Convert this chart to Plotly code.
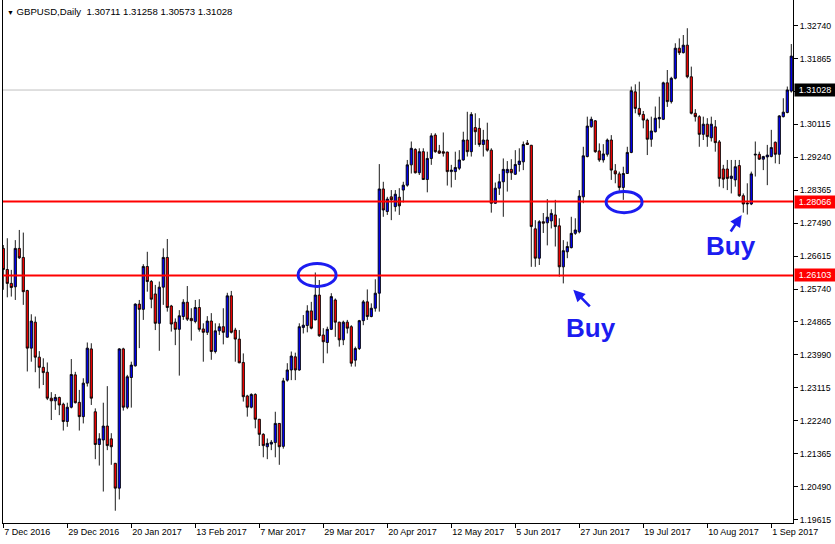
import pandas as pd
import plotly.graph_objects as go

# GBPUSD daily candles, 7 Dec 2016 .. 8 Sep 2017 (weekdays only)
dates = pd.bdate_range("2016-12-07", periods=198).strftime("%Y-%m-%d").tolist()

open_ = [
    1.2682, 1.2626, 1.2589, 1.2580, 1.2682, 1.2658, 1.2570, 1.2417, 1.2486, 1.2393,
    1.2366, 1.2353, 1.2284, 1.2277, 1.2286, 1.2268, 1.2222, 1.2260, 1.2346, 1.2273,
    1.2235, 1.2324, 1.2415, 1.2248, 1.2161, 1.2173, 1.2210, 1.2176, 1.2111, 1.2045,
    1.2415, 1.2260, 1.2339, 1.2370, 1.2534, 1.2520, 1.2634, 1.2594, 1.2561, 1.2483,
    1.2579, 1.2658, 1.2529, 1.2486, 1.2467, 1.2501, 1.2539, 1.2496, 1.2488, 1.2525,
    1.2468, 1.2459, 1.2489, 1.2408, 1.2463, 1.2474, 1.2446, 1.2556, 1.2465, 1.2441,
    1.2379, 1.2290, 1.2260, 1.2294, 1.2228, 1.2188, 1.2155, 1.2162, 1.2166, 1.2217,
    1.2156, 1.2332, 1.2359, 1.2394, 1.2359, 1.2472, 1.2477, 1.2516, 1.2492, 1.2558,
    1.2452, 1.2432, 1.2467, 1.2545, 1.2486, 1.2439, 1.2486, 1.2474, 1.2385, 1.2416,
    1.2490, 1.2540, 1.2501, 1.2523, 1.2563, 1.2840, 1.2780, 1.2819, 1.2793, 1.2818,
    1.2837, 1.2850, 1.2904, 1.2945, 1.2883, 1.2939, 1.2865, 1.2921, 1.2983, 1.2941,
    1.2939, 1.2938, 1.2886, 1.2886, 1.2895, 1.2917, 1.2970, 1.2939, 1.3003, 1.3001,
    1.2958, 1.2970, 1.2943, 1.2802, 1.2842, 1.2859, 1.2883, 1.2892, 1.2879, 1.2905,
    1.2912, 1.2962, 1.2956, 1.2734, 1.2656, 1.2753, 1.2750, 1.2755, 1.2771, 1.2742,
    1.2633, 1.2673, 1.2684, 1.2722, 1.2726, 1.2819, 1.2926, 1.3005, 1.3021, 1.2941,
    1.2917, 1.2932, 1.2970, 1.2888, 1.2880, 1.2844, 1.2881, 1.2937, 1.3098, 1.3054,
    1.3038, 1.3023, 1.2972, 1.2992, 1.3026, 1.3025, 1.3122, 1.3072, 1.3134, 1.3214,
    1.3202, 1.3222, 1.3138, 1.3041, 1.3032, 1.2985, 1.3012, 1.2976, 1.3005, 1.2965,
    1.2893, 1.2893, 1.2868, 1.2864, 1.2902, 1.2822, 1.2800, 1.2800, 1.2930, 1.2932,
    1.2919, 1.2925, 1.2926, 1.2964, 1.2932, 1.3032, 1.3043, 1.3100,
]
high = [
    1.2691, 1.2709, 1.2625, 1.2704, 1.2731, 1.2724, 1.2572, 1.2507, 1.2501, 1.2409,
    1.2390, 1.2379, 1.2300, 1.2295, 1.2288, 1.2272, 1.2272, 1.2388, 1.2354, 1.2306,
    1.2337, 1.2432, 1.2430, 1.2257, 1.2191, 1.2272, 1.2316, 1.2191, 1.2112, 1.2417,
    1.2418, 1.2346, 1.2381, 1.2536, 1.2545, 1.2640, 1.2673, 1.2598, 1.2585, 1.2594,
    1.2682, 1.2707, 1.2532, 1.2496, 1.2518, 1.2547, 1.2582, 1.2523, 1.2545, 1.2547,
    1.2483, 1.2502, 1.2510, 1.2483, 1.2483, 1.2523, 1.2564, 1.2569, 1.2471, 1.2465,
    1.2403, 1.2293, 1.2297, 1.2297, 1.2229, 1.2191, 1.2177, 1.2173, 1.2248, 1.2218,
    1.2338, 1.2377, 1.2408, 1.2405, 1.2483, 1.2505, 1.2531, 1.2540, 1.2618, 1.2598,
    1.2470, 1.2474, 1.2563, 1.2549, 1.2487, 1.2490, 1.2492, 1.2478, 1.2421, 1.2492,
    1.2545, 1.2573, 1.2536, 1.2600, 1.2906, 1.2859, 1.2819, 1.2837, 1.2837, 1.2842,
    1.2859, 1.2917, 1.2966, 1.2948, 1.2948, 1.2948, 1.2939, 1.2988, 1.2988, 1.2957,
    1.2990, 1.2939, 1.2904, 1.2939, 1.2943, 1.2992, 1.3045, 1.3044, 1.3041, 1.3028,
    1.2997, 1.3016, 1.2948, 1.2857, 1.2880, 1.2921, 1.2914, 1.2919, 1.2943, 1.2948,
    1.2966, 1.2970, 1.2957, 1.2757, 1.2757, 1.2776, 1.2813, 1.2786, 1.2811, 1.2762,
    1.2704, 1.2700, 1.2766, 1.2762, 1.2837, 1.2952, 1.3032, 1.3032, 1.3023, 1.2961,
    1.2959, 1.2974, 1.2983, 1.2906, 1.2886, 1.2899, 1.2952, 1.3112, 1.3118, 1.3125,
    1.3047, 1.3027, 1.3032, 1.3059, 1.3085, 1.3125, 1.3156, 1.3138, 1.3227, 1.3240,
    1.3249, 1.3267, 1.3165, 1.3052, 1.3036, 1.3032, 1.3028, 1.3032, 1.3023, 1.2970,
    1.2904, 1.2917, 1.2917, 1.2917, 1.2917, 1.2828, 1.2855, 1.2886, 1.2966, 1.2939,
    1.2928, 1.2957, 1.2997, 1.2966, 1.3036, 1.3081, 1.3112, 1.3225,
]
low = [
    1.2572, 1.2552, 1.2554, 1.2545, 1.2654, 1.2532, 1.2355, 1.2381, 1.2353, 1.2310,
    1.2319, 1.2279, 1.2226, 1.2253, 1.2239, 1.2198, 1.2208, 1.2257, 1.2270, 1.2198,
    1.2217, 1.2315, 1.2266, 1.2122, 1.2105, 1.2036, 1.2146, 1.2107, 1.1985, 1.2015,
    1.2251, 1.2255, 1.2259, 1.2368, 1.2417, 1.2492, 1.2567, 1.2523, 1.2465, 1.2410,
    1.2532, 1.2514, 1.2461, 1.2425, 1.2344, 1.2492, 1.2489, 1.2437, 1.2483, 1.2461,
    1.2381, 1.2452, 1.2386, 1.2403, 1.2452, 1.2427, 1.2445, 1.2456, 1.2381, 1.2377,
    1.2275, 1.2235, 1.2257, 1.2204, 1.2157, 1.2127, 1.2122, 1.2146, 1.2127, 1.2107,
    1.2150, 1.2328, 1.2332, 1.2332, 1.2357, 1.2456, 1.2459, 1.2467, 1.2491, 1.2447,
    1.2377, 1.2403, 1.2465, 1.2447, 1.2421, 1.2425, 1.2456, 1.2368, 1.2368, 1.2412,
    1.2478, 1.2492, 1.2499, 1.2514, 1.2514, 1.2766, 1.2771, 1.2757, 1.2780, 1.2771,
    1.2804, 1.2846, 1.2881, 1.2881, 1.2877, 1.2864, 1.2831, 1.2904, 1.2936, 1.2933,
    1.2926, 1.2849, 1.2844, 1.2864, 1.2890, 1.2915, 1.2926, 1.2926, 1.2957, 1.2952,
    1.2926, 1.2939, 1.2777, 1.2800, 1.2824, 1.2766, 1.2833, 1.2864, 1.2877, 1.2886,
    1.2890, 1.2957, 1.2633, 1.2633, 1.2638, 1.2723, 1.2690, 1.2735, 1.2687, 1.2607,
    1.2589, 1.2656, 1.2682, 1.2718, 1.2722, 1.2802, 1.2924, 1.3003, 1.2936, 1.2912,
    1.2910, 1.2926, 1.2864, 1.2855, 1.2835, 1.2811, 1.2880, 1.2935, 1.3041, 1.3032,
    1.3001, 1.2930, 1.2952, 1.2990, 1.3001, 1.3023, 1.3058, 1.3067, 1.3131, 1.3196,
    1.3200, 1.3134, 1.3038, 1.3019, 1.2952, 1.2970, 1.2952, 1.2966, 1.2939, 1.2846,
    1.2842, 1.2837, 1.2828, 1.2846, 1.2819, 1.2777, 1.2772, 1.2797, 1.2873, 1.2917,
    1.2890, 1.2850, 1.2924, 1.2908, 1.2906, 1.3030, 1.3041, 1.3096,
]
close = [
    1.2626, 1.2589, 1.2578, 1.2682, 1.2657, 1.2567, 1.2417, 1.2489, 1.2393, 1.2366,
    1.2352, 1.2284, 1.2277, 1.2286, 1.2266, 1.2222, 1.2260, 1.2347, 1.2272, 1.2235,
    1.2324, 1.2417, 1.2284, 1.2161, 1.2176, 1.2210, 1.2158, 1.2155, 1.2045, 1.2415,
    1.2260, 1.2341, 1.2372, 1.2534, 1.2520, 1.2634, 1.2594, 1.2547, 1.2483, 1.2579,
    1.2658, 1.2525, 1.2481, 1.2467, 1.2503, 1.2539, 1.2494, 1.2490, 1.2525, 1.2467,
    1.2459, 1.2489, 1.2408, 1.2463, 1.2474, 1.2459, 1.2556, 1.2459, 1.2441, 1.2378,
    1.2288, 1.2260, 1.2294, 1.2228, 1.2188, 1.2158, 1.2164, 1.2167, 1.2217, 1.2155,
    1.2330, 1.2359, 1.2396, 1.2359, 1.2474, 1.2478, 1.2516, 1.2470, 1.2558, 1.2450,
    1.2434, 1.2467, 1.2554, 1.2486, 1.2439, 1.2486, 1.2470, 1.2377, 1.2416, 1.2490,
    1.2540, 1.2501, 1.2523, 1.2563, 1.2840, 1.2784, 1.2813, 1.2811, 1.2826, 1.2795,
    1.2850, 1.2904, 1.2948, 1.2883, 1.2939, 1.2865, 1.2921, 1.2981, 1.2939, 1.2935,
    1.2935, 1.2886, 1.2890, 1.2897, 1.2917, 1.2970, 1.2939, 1.3038, 1.2992, 1.2958,
    1.2970, 1.2943, 1.2802, 1.2842, 1.2859, 1.2892, 1.2892, 1.2883, 1.2905, 1.2914,
    1.2958, 1.2958, 1.2740, 1.2656, 1.2753, 1.2749, 1.2765, 1.2775, 1.2740, 1.2633,
    1.2676, 1.2687, 1.2722, 1.2731, 1.2821, 1.2928, 1.3007, 1.3025, 1.2939, 1.2917,
    1.2933, 1.2970, 1.2890, 1.2880, 1.2844, 1.2881, 1.2937, 1.3101, 1.3054, 1.3038,
    1.3023, 1.2972, 1.2994, 1.3028, 1.3030, 1.3122, 1.3072, 1.3134, 1.3214, 1.3202,
    1.3222, 1.3138, 1.3041, 1.3032, 1.2985, 1.3012, 1.2979, 1.3012, 1.2963, 1.2868,
    1.2866, 1.2868, 1.2874, 1.2899, 1.2822, 1.2800, 1.2802, 1.2880, 1.2932, 1.2919,
    1.2926, 1.2930, 1.2950, 1.2932, 1.3034, 1.3044, 1.3103, 1.3193,
]

price_ticks = [1.19615, 1.20490, 1.21365, 1.22240, 1.23115, 1.23990, 1.24865, 1.25740,
               1.26615, 1.27490, 1.28365, 1.29240, 1.30115, 1.30990, 1.31865, 1.32740]
date_ticks = ["7 Dec 2016", "29 Dec 2016", "20 Jan 2017", "13 Feb 2017", "7 Mar 2017",
              "29 Mar 2017", "20 Apr 2017", "12 May 2017", "5 Jun 2017", "27 Jun 2017",
              "19 Jul 2017", "10 Aug 2017", "1 Sep 2017"]
levels = [1.28066, 1.26103]
last_price = 1.31028
header_values = ["1.30711", "1.31258", "1.30573", "1.31028"]

FONT = "Tahoma, Liberation Sans, Arial, sans-serif"
BULL = "#0000ff"
BEAR = "#ff0000"
MARK = "#1c1cf0"

fig = go.Figure(go.Candlestick(
    x=dates, open=open_, high=high, low=low, close=close,
    increasing=dict(fillcolor=BULL, line=dict(color="black", width=0.9)),
    decreasing=dict(fillcolor=BEAR, line=dict(color="black", width=0.9)),
    whiskerwidth=0,
    hoverinfo="skip",
))

# current price line (gray) and the two horizontal levels (red)
fig.add_hline(y=last_price, line_color="#c0c0c0", line_width=1, layer="below")
for lvl in levels:
    fig.add_hline(y=lvl, line_color="#ff0000", line_width=2)

# price labels on the right scale
fig.add_annotation(x=1, xref="paper", y=last_price, yref="y", text=f"{last_price:.5f}",
                   showarrow=False, xanchor="left", xshift=1, bgcolor="black",
                   font=dict(family=FONT, size=9, color="white"), width=40, height=12, borderpad=0)
for lvl in levels:
    fig.add_annotation(x=1, xref="paper", y=lvl, yref="y", text=f"{lvl:.5f}",
                       showarrow=False, xanchor="left", xshift=1, bgcolor="#ff0000",
                       font=dict(family=FONT, size=9, color="white"), width=40, height=12, borderpad=0)

# blue ellipses on the touches
fig.add_shape(type="circle", xref="x", yref="y", x0=73.7, x1=83.2, y0=1.2581, y1=1.2642,
              line=dict(color=MARK, width=3))
fig.add_shape(type="circle", xref="x", yref="y", x0=150.7, x1=159.7, y0=1.2777, y1=1.2833,
              line=dict(color=MARK, width=3))

# "Buy" arrows and labels
fig.add_annotation(x=142.5, y=1.2572, text="", showarrow=True, ax=18, ay=18,
                   arrowhead=2, arrowsize=0.9, arrowwidth=2.6, arrowcolor=MARK)
fig.add_annotation(x=184.6, y=1.2771, text="", showarrow=True, ax=-12, ay=18,
                   arrowhead=2, arrowsize=0.9, arrowwidth=2.6, arrowcolor=MARK)
fig.add_annotation(x=147.0, y=1.2470, text="<b>Buy</b>", showarrow=False,
                   font=dict(family="Liberation Sans, Arial", size=26, color=MARK))
fig.add_annotation(x=182.0, y=1.2689, text="<b>Buy</b>", showarrow=False,
                   font=dict(family="Liberation Sans, Arial", size=26, color=MARK))

# chart header
fig.add_annotation(x=0, xref="paper", y=1, yref="paper", xanchor="left", yanchor="top",
                   xshift=2, yshift=-4, showarrow=False,
                   text="<span style='font-size:7px'>▼</span> GBPUSD,Daily\u00a0\u00a0" + " ".join(header_values),
                   font=dict(family=FONT, size=9.6, color="black"))

fig.update_layout(
    width=835, height=544, autosize=False,
    margin=dict(l=3, r=42, t=0, b=21),
    paper_bgcolor="white", plot_bgcolor="white",
    showlegend=False,
    boxgap=0.2,
    font=dict(family=FONT, size=9, color="black"),
    xaxis=dict(
        type="category", range=[-0.075, 197.425], rangeslider=dict(visible=False),
        tickvals=dates[::16], ticktext=date_ticks,
        ticks="outside", ticklen=4, tickcolor="black",
        ticklabelposition="outside right",
        showgrid=False, zeroline=False,
        showline=True, linecolor="black", linewidth=1,
        tickfont=dict(family=FONT, size=9, color="black"),
    ),
    yaxis=dict(
        side="right", range=[1.19524, 1.3342],
        tickvals=price_ticks, tickformat=".5f",
        ticks="outside", ticklen=4, tickcolor="black",
        showgrid=False, zeroline=False,
        showline=True, mirror=True, linecolor="black", linewidth=1,
        tickfont=dict(family=FONT, size=8.7, color="black"),
    ),
)

# page has a default 8px body margin; drop it so the chart sits at the window origin
fig.write_html("out.html", config={"displayModeBar": False},
               post_script="document.body.style.margin='0';")
